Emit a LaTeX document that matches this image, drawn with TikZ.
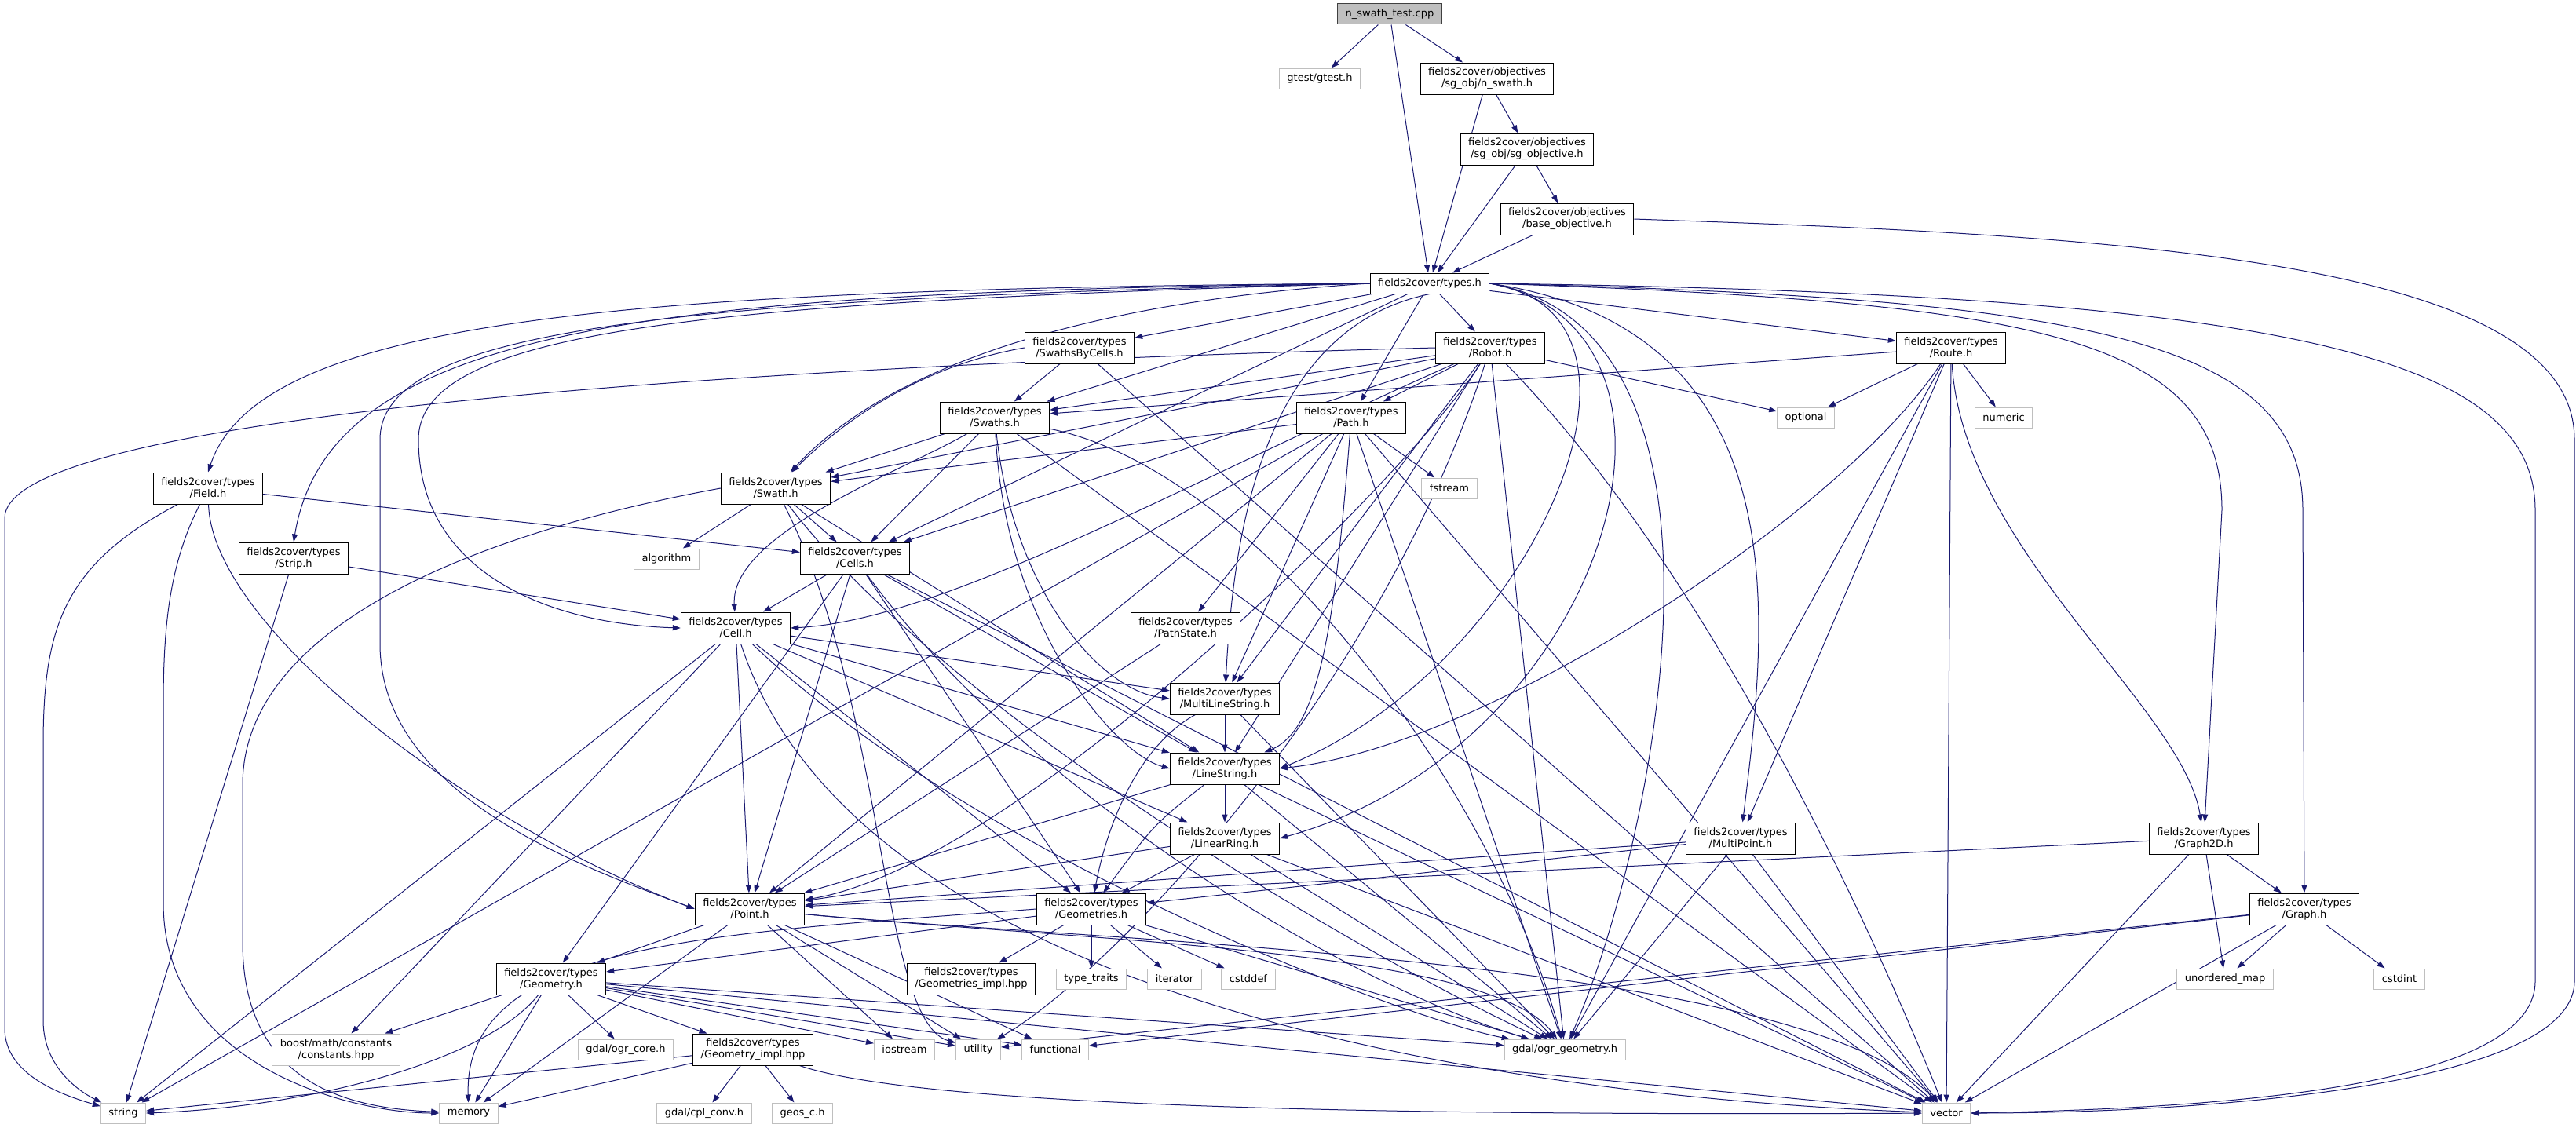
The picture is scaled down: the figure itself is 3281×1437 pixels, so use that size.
\documentclass[tikz,border=0pt]{standalone}
\usepackage{fontspec}
\setmainfont{DejaVu Sans}
\usetikzlibrary{arrows.meta,backgrounds}
\definecolor{edgeblue}{HTML}{191970}
\definecolor{sysgray}{HTML}{BFBFBF}
\tikzset{
  hdr/.style={draw=black,fill=white,line width=1pt,align=center,font=\fontsize{13}{15}\selectfont,
    inner xsep=10pt,inner ysep=2pt,minimum height=40pt},
  onehdr/.style={hdr,minimum height=26pt},
  sys/.style={hdr,draw=sysgray,minimum height=26pt},
  srcfile/.style={onehdr,fill=sysgray,draw=black!75},
  dep/.style={edgeblue,line width=1pt,-{Triangle[length=10pt,width=7pt]}}
}

\begin{document}
\begin{tikzpicture}[x=1pt,y=-1pt]
\useasboundingbox (0,0) rectangle (3281,1437);

\node[srcfile] (main) at (1770,18) {n\_swath\_test.cpp};
\node[sys] (gtest) at (1681,100) {gtest/gtest.h};
\node[hdr] (nswath) at (1894,100) {fields2cover/objectives\\/sg\_obj/n\_swath.h};
\node[hdr] (sgobj) at (1945,190) {fields2cover/objectives\\/sg\_obj/sg\_objective.h};
\node[hdr] (baseobj) at (1996,279) {fields2cover/objectives\\/base\_objective.h};
\node[onehdr] (types) at (1821,361) {fields2cover/types.h};
\node[hdr] (sbc) at (1375,443) {fields2cover/types\\/SwathsByCells.h};
\node[hdr] (robot) at (1898,443) {fields2cover/types\\/Robot.h};
\node[hdr] (route) at (2485,443) {fields2cover/types\\/Route.h};
\node[hdr] (swaths) at (1267,532) {fields2cover/types\\/Swaths.h};
\node[hdr] (path) at (1721,532) {fields2cover/types\\/Path.h};
\node[sys] (optional) at (2300,532) {optional};
\node[sys] (numeric) at (2552,532) {numeric};
\node[hdr] (field) at (265,622) {fields2cover/types\\/Field.h};
\node[hdr] (swath) at (988,622) {fields2cover/types\\/Swath.h};
\node[sys] (fstream) at (1846,622) {fstream};
\node[hdr] (strip) at (374,711) {fields2cover/types\\/Strip.h};
\node[sys] (algorithm) at (849,712) {algorithm};
\node[hdr] (cells) at (1089,711) {fields2cover/types\\/Cells.h};
\node[hdr] (cell) at (937,800) {fields2cover/types\\/Cell.h};
\node[hdr] (pathstate) at (1510,800) {fields2cover/types\\/PathState.h};
\node[hdr] (mls) at (1560,890) {fields2cover/types\\/MultiLineString.h};
\node[hdr] (ls) at (1560,979) {fields2cover/types\\/LineString.h};
\node[hdr] (lr) at (1560,1068) {fields2cover/types\\/LinearRing.h};
\node[hdr] (mpoint) at (2217,1068) {fields2cover/types\\/MultiPoint.h};
\node[hdr] (graph2d) at (2807,1068) {fields2cover/types\\/Graph2D.h};
\node[hdr] (point) at (955,1158) {fields2cover/types\\/Point.h};
\node[hdr] (geoms) at (1390,1158) {fields2cover/types\\/Geometries.h};
\node[hdr] (graph) at (2935,1158) {fields2cover/types\\/Graph.h};
\node[hdr] (geom) at (702,1247) {fields2cover/types\\/Geometry.h};
\node[hdr] (geomsimpl) at (1237,1247) {fields2cover/types\\/Geometries\_impl.hpp};
\node[sys] (typetraits) at (1390,1247) {type\_traits};
\node[sys] (iterator) at (1496,1247) {iterator};
\node[sys] (cstddef) at (1590,1247) {cstddef};
\node[sys] (unordmap) at (2834,1247) {unordered\_map};
\node[sys] (cstdint) at (3056,1247) {cstdint};
\node[sys,minimum height=40pt] (boost) at (428,1337) {boost/math/constants\\/constants.hpp};
\node[sys] (ogrcore) at (797,1337) {gdal/ogr\_core.h};
\node[hdr] (geomimpl) at (959,1337) {fields2cover/types\\/Geometry\_impl.hpp};
\node[sys] (iostream) at (1152,1337) {iostream};
\node[sys] (utility) at (1246,1337) {utility};
\node[sys] (functional) at (1344,1337) {functional};
\node[sys] (ogrgeom) at (1993,1337) {gdal/ogr\_geometry.h};
\node[sys] (string) at (157,1418) {string};
\node[sys] (memory) at (597,1418) {memory};
\node[sys] (cplconv) at (897,1418) {gdal/cpl\_conv.h};
\node[sys] (geosc) at (1022,1418) {geos\_c.h};
\node[sys] (vector) at (2479,1418) {vector};

\begin{scope}[on background layer]
\foreach \a/\b in {main/gtest, main/nswath, main/types, nswath/sgobj, nswath/types,
  sgobj/baseobj, sgobj/types, baseobj/types,
  types/sbc, types/robot, types/route, types/swaths, types/path, types/cells,
  sbc/swaths, sbc/vector,
  robot/path, robot/swaths, robot/swath, robot/cells, robot/mls, robot/ls, robot/optional, robot/ogrgeom,
  route/swaths, route/optional, route/numeric, route/mpoint, route/ogrgeom, route/vector,
  swaths/swath, swaths/cells, swaths/vector,
  path/swath, path/pathstate, path/fstream, path/point, path/mls, path/ogrgeom, path/vector, path/string,
  swath/cells, swath/algorithm, swath/ls,
  field/cells, strip/cell, strip/string,
  cells/cell, cells/point, cells/ls, cells/geoms, cells/geom, cells/vector,
  cell/point, cell/ls, cell/mls, cell/lr, cell/geoms, cell/boost, cell/string,
  pathstate/point, mls/ls, mls/ogrgeom,
  ls/lr, ls/point, ls/ogrgeom, ls/vector,
  lr/point, lr/geoms, lr/ogrgeom, lr/vector,
  mpoint/point, mpoint/geoms, mpoint/ogrgeom, mpoint/vector,
  graph2d/graph, graph2d/point, graph2d/unordmap, graph2d/vector,
  graph/unordmap, graph/cstdint, graph/vector, graph/functional, graph/utility,
  point/geom, point/memory, point/iostream, point/utility, point/functional,
  geoms/geom, geoms/geomsimpl, geoms/typetraits, geoms/iterator, geoms/cstddef, geoms/ogrgeom,
  geom/boost, geom/ogrcore, geom/geomimpl, geom/memory, geom/iostream, geom/utility,
  geom/functional, geom/ogrgeom, geom/vector,
  geomimpl/string, geomimpl/memory, geomimpl/cplconv, geomimpl/geosc}
  \draw[dep] (\a) -- (\b);
% routed edges
\draw[dep] (types.west) .. controls (800,368) and (330,405) .. (field.north);
\draw[dep] (types.west) .. controls (850,372) and (420,410) .. (strip.north);
\draw[dep] (types.west) .. controls (900,385) and (533,420) .. (533,560) .. controls (533,730) and (700,795) .. (cell.west);
\draw[dep] (types.west) .. controls (850,380) and (484,420) .. (484,560) -- (484,820) .. controls (484,1020) and (760,1110) .. (point.west);
\draw[dep] (types.west) .. controls (1300,390) and (1100,500) .. (swath);
\draw[dep] (types.south) .. controls (1600,420) and (1570,700) .. (mls);
\draw[dep] (types.east) .. controls (2150,400) and (1950,850) .. (ls.east);
\draw[dep] (types.east) .. controls (2200,420) and (2050,950) .. (lr.east);
\draw[dep] (types.east) .. controls (2250,420) and (2100,1100) .. (ogrgeom);
\draw[dep] (types.east) .. controls (2300,420) and (2250,800) .. (mpoint);
\draw[dep] (types.east) .. controls (2600,385) and (2830,430) .. (2830,650) -- (graph2d);
\draw[dep] (types.east) .. controls (2650,380) and (2933,430) .. (2933,650) -- (graph);
\draw[dep] (types.east) .. controls (2900,375) and (3229,450) .. (3229,650) -- (3229,1250) .. controls (3229,1390) and (2800,1412) .. (vector.east);
\draw[dep] (baseobj.east) .. controls (2700,300) and (3279,330) .. (3279,560) -- (3279,1250) .. controls (3279,1385) and (2800,1418) .. (vector.east);
\draw[dep] (robot.west) .. controls (800,470) and (6,540) .. (6,660) -- (6,1310) .. controls (6,1370) and (80,1395) .. (string);
\draw[dep] (route) .. controls (2350,650) and (1900,950) .. (ls.east);
\draw[dep] (route) .. controls (2500,700) and (2780,900) .. (graph2d);
\draw[dep] (field) .. controls (80,720) and (55,800) .. (55,950) -- (55,1300) .. controls (55,1365) and (110,1395) .. (string);
\draw[dep] (field) .. controls (215,720) and (208,800) .. (208,900) -- (208,1150) .. controls (208,1360) and (450,1418) .. (memory);
\draw[dep] (swath.west) .. controls (600,680) and (309,800) .. (309,1000) -- (309,1200) .. controls (309,1385) and (450,1412) .. (memory);
\draw[dep] (field) .. controls (270,800) and (600,1050) .. (point.west);
\draw[dep] (sbc.west) .. controls (1150,470) and (1050,560) .. (swath);
\draw[dep] (robot) .. controls (1500,620) and (1200,790) .. (cell.east);
\draw[dep] (robot) .. controls (1800,600) and (1300,1100) .. (point);
\draw[dep] (robot) .. controls (2150,700) and (2350,1100) .. (vector);
\draw[dep] (robot) .. controls (1750,900) and (1400,1250) .. (utility);
\draw[dep] (swaths) .. controls (1150,600) and (930,680) .. (cell);
\draw[dep] (swaths) .. controls (1290,750) and (1400,880) .. (mls.west);
\draw[dep] (swaths) .. controls (1280,800) and (1420,960) .. (ls.west);
\draw[dep] (swaths) .. controls (1600,600) and (1900,1000) .. (ogrgeom);
\draw[dep] (path) .. controls (1700,800) and (1680,930) .. (ls);
\draw[dep] (swath) .. controls (1200,900) and (1700,1200) .. (ogrgeom);
\draw[dep] (swath) .. controls (1130,900) and (1120,1300) .. (utility);
\draw[dep] (cells) .. controls (1300,1000) and (1700,1250) .. (ogrgeom);
\draw[dep] (cell) .. controls (1250,1100) and (1800,1300) .. (ogrgeom);
\draw[dep] (cell) .. controls (1100,1300) and (2000,1400) .. (vector);
\draw[dep] (geom) .. controls (620,1350) and (400,1410) .. (string.east);
\draw[dep] (geomimpl) .. controls (1200,1420) and (2000,1420) .. (vector);
\draw[dep] (point) .. controls (1400,1200) and (1900,1210) .. (ogrgeom);
\draw[dep] (point) .. controls (1400,1200) and (2300,1220) .. (vector);
\draw[dep] (geoms.west) .. controls (900,1190) and (590,1200) .. (memory);
\draw[dep] (mls) .. controls (1450,950) and (1410,1050) .. (geoms);
\draw[dep] (ls) .. controls (1470,1050) .. (geoms);
\end{scope}
\end{tikzpicture}
\end{document}
